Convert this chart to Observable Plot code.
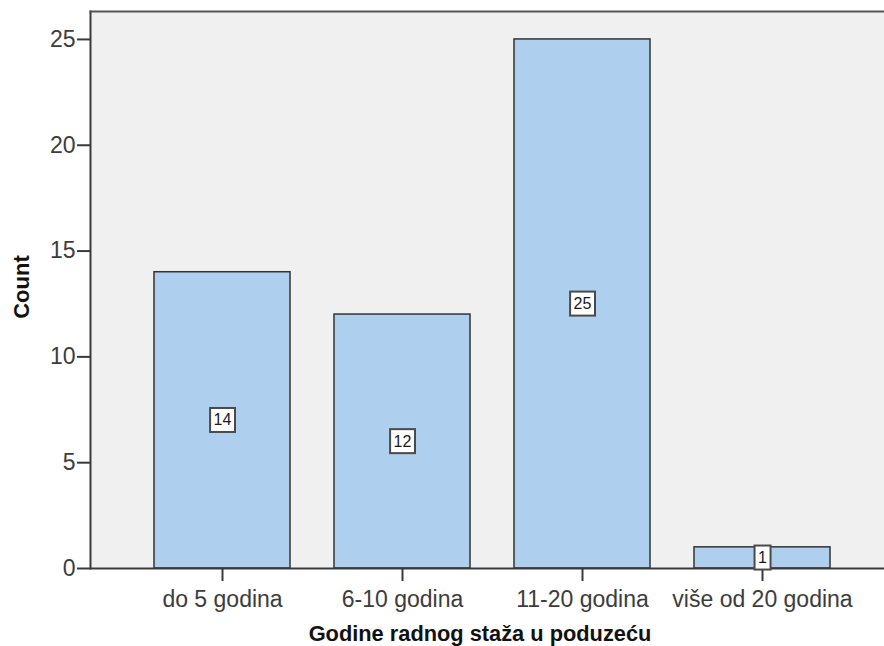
<!DOCTYPE html>
<html>
<head>
<meta charset="utf-8">
<script src="https://cdn.jsdelivr.net/npm/d3@7"></script>
<script src="https://cdn.jsdelivr.net/npm/@observablehq/plot@0.6"></script>
<style>
  html, body { margin: 0; padding: 0; background: #fff; }
  #chart svg { display: block; }
</style>
</head>
<body>
<div id="chart"></div>
<script>
const categories = ["do 5 godina", "6-10 godina", "11-20 godina", "više od 20 godina"];
const counts = [14, 12, 25, 1];
const yTicks = [0, 5, 10, 15, 20, 25];
const yMax = 26.32;
const xTitle = "Godine radnog staža u poduzeću";
const yTitle = "Count";

const data = categories.map((c, i) => ({category: c, count: counts[i]}));
const FONT = "'Liberation Sans', Arial, sans-serif";
const INK = "#3c3c3c";

const plot = Plot.plot({
  width: 884,
  height: 646,
  marginLeft: 90,
  marginRight: 0,
  marginTop: 11,
  marginBottom: 78,
  style: {fontFamily: FONT, background: "#fff", color: INK},
  x: {domain: categories, paddingInner: 0.247, paddingOuter: 0.323, align: 0.543, label: null},
  y: {domain: [0, yMax], label: null},
  marks: [
    Plot.frame({fill: "#f0f0f0", stroke: null}),
    Plot.barY(data, {x: "category", y: "count", fill: "#aecfee", stroke: "#333", strokeWidth: 1.5}),
    Plot.ruleY([0], {stroke: "#3a3a3a", strokeWidth: 2}),
    Plot.frame({anchor: "left", stroke: "#3a3a3a", strokeWidth: 2}),
    Plot.frame({anchor: "top", stroke: "#555", strokeWidth: 2}),
    Plot.axisY({ticks: yTicks, tickSize: 13, tickPadding: 2, fontSize: 23, stroke: "#3a3a3a", strokeWidth: 2, label: null}),
    Plot.axisX({tickSize: 13, tickPadding: 9, fontSize: 23, stroke: "#3a3a3a", strokeWidth: 2, label: null}),
    Plot.text(data, {x: "category", y: d => d.count / 2, text: d => String(d.count), fontSize: 16, fill: "#1a1a1a", className: "vlabel"})
  ]
});

const holder = document.getElementById("chart");
holder.appendChild(plot);

// white boxes behind value labels
const svg = d3.select(plot);
svg.selectAll("g.vlabel text").each(function() {
  this.setAttribute("font-size", 16);
  const bb = this.getBBox();
  d3.select(this.parentNode).insert("rect", () => this)
    .attr("transform", this.getAttribute("transform"))
    .attr("x", bb.x - 3.5).attr("y", bb.y + bb.height / 2 - 12)
    .attr("width", bb.width + 7).attr("height", 24)
    .attr("fill", "#fff").attr("stroke", "#4a4a4a").attr("stroke-width", 2);
});

// axis titles
svg.append("text")
  .attr("x", 480).attr("y", 641)
  .attr("text-anchor", "middle")
  .attr("font-family", FONT).attr("font-weight", "bold").attr("font-size", 21.8)
  .attr("fill", "#111")
  .text(xTitle);
svg.append("text")
  .attr("transform", "translate(29,287) rotate(-90)")
  .attr("text-anchor", "middle")
  .attr("font-family", FONT).attr("font-weight", "bold").attr("font-size", 22)
  .attr("fill", "#111")
  .text(yTitle);
</script>
</body>
</html>
